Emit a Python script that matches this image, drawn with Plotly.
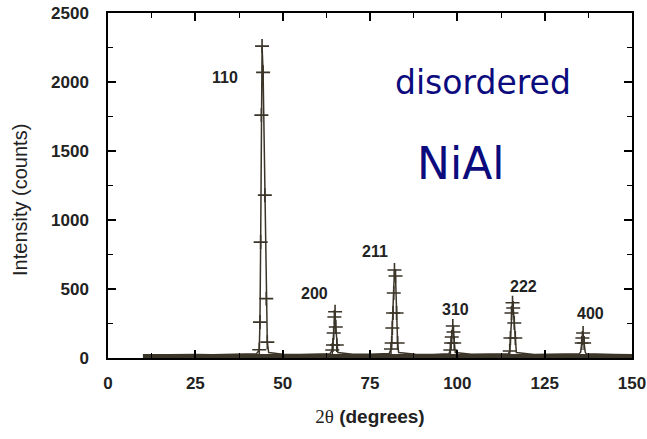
import plotly.graph_objects as go

# ---- data (2θ in degrees, intensity in counts) ----
base_x = [10, 15, 20, 25, 30, 35, 40, 42.5]
base_y = [22, 24, 23, 25, 24, 26, 27, 30]

p110_x = [43.3, 43.5, 43.7, 43.9, 44.1, 44.4, 44.9, 45.3, 45.6, 46.0]
p110_y = [60, 260, 840, 1760, 2260, 2070, 1180, 430, 115, 40]

mid1_x = [50, 55, 60, 63.5]
mid1_y = [28, 26, 27, 30]

p200_x = [64.2, 64.4, 64.6, 64.8, 65.0, 65.2, 65.5, 65.8]
p200_y = [58, 94, 181, 297, 335, 225, 94, 40]

mid2_x = [70, 75, 80.5]
mid2_y = [28, 27, 32]

p211_x = [81.0, 81.2, 81.4, 81.6, 81.8, 82.0, 82.3, 82.6, 82.9, 83.2]
p211_y = [65, 109, 217, 326, 471, 638, 594, 326, 109, 40]

mid3_x = [88, 93, 97.6]
mid3_y = [28, 26, 30]

p310_x = [98.0, 98.2, 98.4, 98.7, 98.9, 99.1, 99.4]
p310_y = [58, 109, 152, 232, 188, 109, 40]

mid4_x = [104, 110, 114.6]
mid4_y = [27, 26, 30]

p222_x = [115.0, 115.2, 115.5, 115.8, 116.0, 116.3, 116.6, 116.9]
p222_y = [51, 145, 326, 400, 362, 254, 145, 40]

mid5_x = [122, 128, 134.9]
mid5_y = [26, 27, 30]

p400_x = [135.3, 135.6, 135.8, 136.0, 136.3, 136.6, 136.9]
p400_y = [43, 109, 145, 181, 109, 43, 30]

tail_x = [140, 145, 150]
tail_y = [26, 25, 24]

hkl_labels = ["110", "200", "211", "310", "222", "400"]
hkl_x = [33.5, 59.0, 76.5, 99.5, 119.0, 138.0]
hkl_y = [2030, 470, 770, 350, 515, 320]

x_ticks = [0, 25, 50, 75, 100, 125, 150]
y_ticks = [0, 500, 1000, 1500, 2000, 2500]

# ---- assemble scan ----
segs_x = [base_x, p110_x, mid1_x, p200_x, mid2_x, p211_x, mid3_x, p310_x,
          mid4_x, p222_x, mid5_x, p400_x, tail_x]
segs_y = [base_y, p110_y, mid1_y, p200_y, mid2_y, p211_y, mid3_y, p310_y,
          mid4_y, p222_y, mid5_y, p400_y, tail_y]
scan_x = [v for s in segs_x for v in s]
scan_y = [v for s in segs_y for v in s]

peak_x = [v for s in [p110_x, p200_x, p211_x, p310_x, p222_x, p400_x] for v in s]
peak_y = [v for s in [p110_y, p200_y, p211_y, p310_y, p222_y, p400_y] for v in s]
mk_x = [x for x, y in zip(peak_x, peak_y) if y > 45]
mk_y = [y for y in peak_y if y > 45]

LINE = "#3b3529"

fig = go.Figure()
fig.add_trace(go.Scatter(x=scan_x, y=scan_y, mode="lines",
                         line=dict(color=LINE, width=1.5), hoverinfo="skip"))
# thick baseline band
fig.add_trace(go.Scatter(x=base_x[:1] + tail_x[-1:], y=[14, 14], mode="lines",
                         line=dict(color=LINE, width=4), hoverinfo="skip"))
fig.add_trace(go.Scatter(x=mk_x, y=mk_y, mode="markers",
                         marker=dict(symbol="cross-thin", size=10,
                                     line=dict(color=LINE, width=1.6)),
                         hoverinfo="skip"))

for t, x, y in zip(hkl_labels, hkl_x, hkl_y):
    fig.add_annotation(x=x, y=y, text=f"<b>{t}</b>", showarrow=False,
                       font=dict(family="Liberation Sans, Arial", size=16, color="#222"))

fig.add_annotation(x=107.3, y=1993, text="disordered", showarrow=False,
                   font=dict(family="DejaVu Sans", size=33, color="#0b0b7e"))
fig.add_annotation(x=101, y=1413, text="NiAl", showarrow=False,
                   font=dict(family="DejaVu Sans", size=44, color="#0b0b7e"))

# y-axis title (placed as rotated text so it sits where the reference has it)
fig.add_annotation(xref="paper", yref="paper", x=-0.168, y=0.458,
                   xanchor="center", yanchor="middle",
                   text="Intensity (counts)", textangle=-90, showarrow=False,
                   font=dict(family="Liberation Sans, Arial", size=20, color="#222"))

axis_common = dict(showline=True, linecolor="black", linewidth=1.5, mirror="ticks",
                   ticks="inside", ticklen=8, tickwidth=1.5, tickcolor="black",
                   showgrid=False, zeroline=False, ticklabeloverflow="allow",
                   tickfont=dict(family="Liberation Sans, Arial", size=17, color="#222"))

fig.update_xaxes(range=[0, 150], tickvals=x_ticks,
                 ticktext=[f"<b>{v}</b>" for v in x_ticks],
                 minor=dict(dtick=12.5, ticklen=5, tickwidth=1.2, tickcolor="black",
                            ticks="inside"),
                 ticklabelstandoff=9,
                 title=dict(text="<span style='font-family:Liberation Serif'>2θ</span> <b>(degrees)</b>",
                            font=dict(family="Liberation Sans, Arial", size=19, color="#222"),
                            standoff=18),
                 **axis_common)
fig.update_yaxes(range=[0, 2500], tickvals=y_ticks,
                 ticktext=[f"<b>{v}</b>" for v in y_ticks],
                 minor=dict(dtick=250, ticklen=5, tickwidth=1.2, tickcolor="black",
                            ticks="inside"),
                 ticklabelstandoff=14,
                 **axis_common)

fig.update_layout(width=647, height=439, showlegend=False,
                  margin=dict(l=108, r=15, t=13, b=81, autoexpand=False),
                  plot_bgcolor="white", paper_bgcolor="white")

# remove the page's default body margin so the figure fills the window exactly
fig.write_html("out.html", config={"displayModeBar": False},
               post_script="document.body.style.margin='0';document.body.style.overflow='hidden';")
